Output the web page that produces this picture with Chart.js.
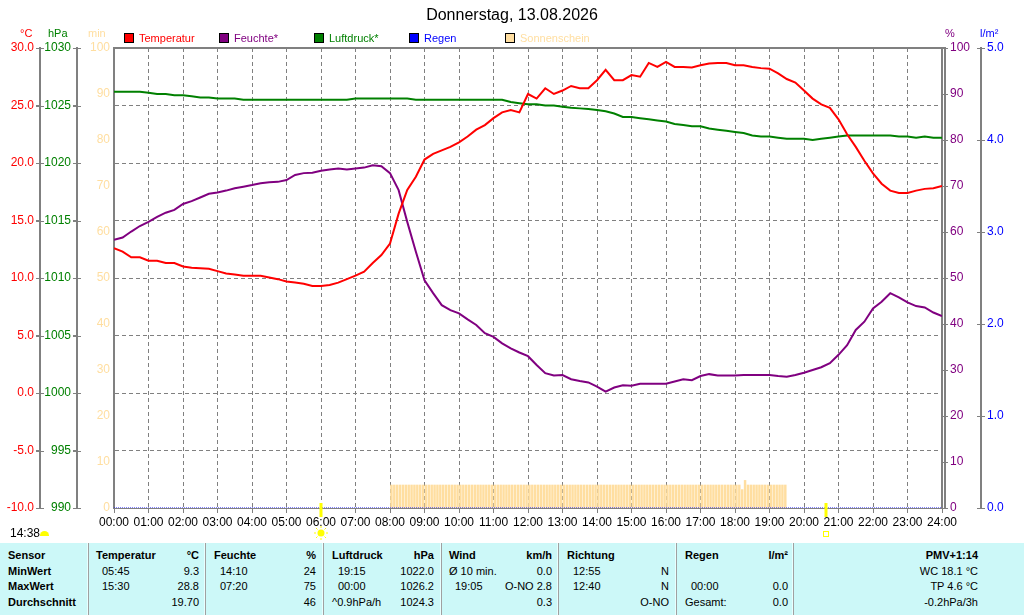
<!DOCTYPE html>
<html lang="de">
<head>
<meta charset="utf-8">
<title>Donnerstag, 13.08.2026</title>
<script src="https://cdn.jsdelivr.net/npm/chart.js@4.4.1/dist/chart.umd.min.js"></script>
<style>
  body { margin: 0; background: #fff; font-family: "Liberation Sans", Arial, sans-serif; }
  #wrap { position: relative; width: 1024px; height: 615px; overflow: hidden; }
  #chart { position: absolute; left: 0; top: 0; }
  .abs { position: absolute; white-space: nowrap; }
  #title { top: 5px; left: 0; width: 1024px; text-align: center; font-size: 16px; line-height: 20px; color: #000; }
  .unit { top: 27px; font-size: 11px; line-height: 12px; }
  .leg { top: 32px; height: 12px; font-size: 11px; line-height: 12px; }
  .leg b { position: absolute; left: 0; top: 1px; width: 8px; height: 8px; border: 1px solid #000; }
  .leg span { position: absolute; left: 15px; top: 0; }
  #now { left: 10px; top: 526px; font-size: 12px; line-height: 15px; }
  #nowIcon { left: 40px; top: 531px; width: 9px; height: 5px; background: #ffff00; border-radius: 5px 5px 0 0; }
  #table { position: absolute; left: 0; top: 543px; width: 1024px; height: 72px; background: #ccf8f8;
           display: flex; font-size: 11px; color: #000; }
  .col { box-sizing: border-box; padding-top: 5px; height: 72px; }
  .col + .col { border-left: 1px solid #a0a0a0; box-shadow: -1px 0 0 #e8ffff; }
  .r { display: flex; justify-content: space-between; height: 15.6px; line-height: 15.6px; white-space: nowrap; }
  .r.h, .col.first .r { font-weight: bold; }
  .t { padding-left: 6px; }
</style>
</head>
<body>
<div id="wrap">
  <canvas id="chart" width="1024" height="543"></canvas>

  <div id="title" class="abs">Donnerstag, 13.08.2026</div>

  <div class="abs unit" style="left:20px;color:#ff0000">°C</div>
  <div class="abs unit" style="left:48px;color:#008000">hPa</div>
  <div class="abs unit" style="left:88px;color:#ffdea0">min</div>
  <div class="abs unit" style="left:945px;color:#800080">%</div>
  <div class="abs unit" style="left:980px;color:#0000ff">l/m²</div>

  <div class="abs leg" style="left:124px"><b style="background:#ff0000"></b><span style="color:#ff0000">Temperatur</span></div>
  <div class="abs leg" style="left:219px"><b style="background:#800080"></b><span style="color:#800080">Feuchte*</span></div>
  <div class="abs leg" style="left:314px"><b style="background:#008000"></b><span style="color:#008000">Luftdruck*</span></div>
  <div class="abs leg" style="left:409px"><b style="background:#0000ff"></b><span style="color:#0000ff">Regen</span></div>
  <div class="abs leg" style="left:505px"><b style="background:#ffdea0"></b><span style="color:#ffdea0">Sonnenschein</span></div>

  <div id="now" class="abs">14:38</div>
  <div id="nowIcon" class="abs"></div>

  <div id="table">
    <div class="col first" style="width:88px;padding-left:8px">
      <div class="r"><span>Sensor</span></div>
      <div class="r"><span>MinWert</span></div>
      <div class="r"><span>MaxWert</span></div>
      <div class="r"><span>Durchschnitt</span></div>
    </div>
    <div class="col" style="width:117px;padding-left:7px;padding-right:6px">
      <div class="r h"><span>Temperatur</span><span>°C</span></div>
      <div class="r"><span class="t">05:45</span><span>9.3</span></div>
      <div class="r"><span class="t">15:30</span><span>28.8</span></div>
      <div class="r"><span></span><span>19.70</span></div>
    </div>
    <div class="col" style="width:118px;padding-left:8px;padding-right:7px">
      <div class="r h"><span>Feuchte</span><span>%</span></div>
      <div class="r"><span class="t">14:10</span><span>24</span></div>
      <div class="r"><span class="t">07:20</span><span>75</span></div>
      <div class="r"><span></span><span>46</span></div>
    </div>
    <div class="col" style="width:118px;padding-left:8px;padding-right:7px">
      <div class="r h"><span>Luftdruck</span><span>hPa</span></div>
      <div class="r"><span class="t">19:15</span><span>1022.0</span></div>
      <div class="r"><span class="t">00:00</span><span>1026.2</span></div>
      <div class="r"><span>^0.9hPa/h</span><span>1024.3</span></div>
    </div>
    <div class="col" style="width:117px;padding-left:7px;padding-right:6px">
      <div class="r h"><span>Wind</span><span>km/h</span></div>
      <div class="r"><span>Ø 10 min.</span><span>0.0</span></div>
      <div class="r"><span class="t">19:05</span><span>O-NO 2.8</span></div>
      <div class="r"><span></span><span>0.3</span></div>
    </div>
    <div class="col" style="width:118px;padding-left:8px;padding-right:7px">
      <div class="r h"><span>Richtung</span><span></span></div>
      <div class="r"><span class="t">12:55</span><span>N</span></div>
      <div class="r"><span class="t">12:40</span><span>N</span></div>
      <div class="r"><span></span><span>O-NO</span></div>
    </div>
    <div class="col" style="width:117px;padding-left:8px;padding-right:5px">
      <div class="r h"><span>Regen</span><span>l/m²</span></div>
      <div class="r"><span></span><span></span></div>
      <div class="r"><span class="t">00:00</span><span>0.0</span></div>
      <div class="r"><span>Gesamt:</span><span>0.0</span></div>
    </div>
    <div class="col" style="width:231px;padding-right:46px;text-align:right">
      <div class="r h" style="justify-content:flex-end"><span>PMV+1:14</span></div>
      <div class="r" style="justify-content:flex-end"><span>WC 18.1 °C</span></div>
      <div class="r" style="justify-content:flex-end"><span>TP 4.6 °C</span></div>
      <div class="r" style="justify-content:flex-end"><span>-0.2hPa/3h</span></div>
    </div>
  </div>
</div>

<script>
// x axis tick labels (hours)
const hourLabels = ['00:00', '01:00', '02:00', '03:00', '04:00', '05:00', '06:00', '07:00', '08:00',
    '09:00', '10:00', '11:00', '12:00', '13:00', '14:00', '15:00', '16:00', '17:00', '18:00',
    '19:00', '20:00', '21:00', '22:00', '23:00', '24:00'];

// readings every 15 minutes, 00:00 .. 24:00
const temperature = [
    12.6, 12.3, 11.8, 11.8, 11.5, 11.5, 11.3, 11.3, 11.0, 10.9, 10.85, 10.8,
    10.6, 10.4, 10.3, 10.2, 10.2, 10.2, 10.05, 9.9, 9.7, 9.6, 9.5, 9.3,
    9.3, 9.4, 9.6, 9.9, 10.2, 10.55, 11.3, 12.0, 13.0, 15.6, 17.65, 18.8,
    20.3, 20.8, 21.1, 21.4, 21.8, 22.3, 22.9, 23.3, 23.9, 24.4, 24.6, 24.4,
    26.0, 25.6, 26.5, 26.0, 26.3, 26.7, 26.5, 26.5, 27.2, 28.1, 27.2, 27.2,
    27.65, 27.5, 28.7, 28.35, 28.8, 28.35, 28.35, 28.3, 28.5, 28.65, 28.7, 28.7,
    28.5, 28.5, 28.35, 28.25, 28.2, 27.8, 27.3, 27.0, 26.3, 25.6, 25.1, 24.8,
    23.8, 22.5, 21.4, 20.2, 19.1, 18.2, 17.6, 17.4, 17.4, 17.6, 17.75, 17.8,
    18.0
];
const humidity = [
    58.3, 58.8, 60.1, 61.3, 62.2, 63.3, 64.2, 64.8, 66.1, 66.7, 67.5, 68.3,
    68.6, 69.0, 69.5, 69.85, 70.2, 70.6, 70.8, 70.9, 71.3, 72.4, 72.8, 72.9,
    73.3, 73.6, 73.8, 73.6, 73.8, 74.0, 74.5, 74.3, 72.8, 69.1, 62.2, 55.7,
    49.5, 46.7, 44.1, 43.0, 42.3, 41.0, 39.8, 38.0, 37.2, 35.8, 34.7, 33.8,
    33.0, 31.1, 29.3, 28.8, 28.9, 28.0, 27.6, 27.3, 26.4, 25.3, 26.2, 26.7,
    26.6, 27.0, 27.0, 27.0, 27.0, 27.5, 28.0, 27.8, 28.7, 29.1, 28.8, 28.8,
    28.8, 28.9, 28.9, 28.9, 28.9, 28.7, 28.55, 28.9, 29.4, 30.0, 30.6, 31.5,
    33.3, 35.4, 38.7, 40.5, 43.4, 44.85, 46.7, 45.8, 44.7, 43.9, 43.6, 42.5,
    41.7
];
const pressure = [
    1026.2, 1026.2, 1026.2, 1026.2, 1026.1, 1026.0, 1026.0, 1025.9, 1025.9, 1025.8, 1025.7, 1025.7,
    1025.6, 1025.6, 1025.6, 1025.5, 1025.5, 1025.5, 1025.5, 1025.5, 1025.5, 1025.5, 1025.5, 1025.5,
    1025.5, 1025.5, 1025.5, 1025.5, 1025.6, 1025.6, 1025.6, 1025.6, 1025.6, 1025.6, 1025.6, 1025.5,
    1025.5, 1025.5, 1025.5, 1025.5, 1025.5, 1025.5, 1025.5, 1025.5, 1025.5, 1025.5, 1025.3, 1025.2,
    1025.1, 1025.1, 1025.0, 1025.0, 1024.9, 1024.8, 1024.75, 1024.7, 1024.6, 1024.5, 1024.3, 1024.0,
    1024.0, 1023.9, 1023.8, 1023.7, 1023.6, 1023.4, 1023.3, 1023.2, 1023.2, 1023.0, 1022.9, 1022.8,
    1022.7, 1022.6, 1022.4, 1022.3, 1022.3, 1022.2, 1022.1, 1022.1, 1022.1, 1022.0, 1022.1, 1022.2,
    1022.3, 1022.4, 1022.4, 1022.4, 1022.4, 1022.4, 1022.4, 1022.3, 1022.3, 1022.2, 1022.3, 1022.2,
    1022.2
];
// rain per hour, 00:00 .. 24:00
const rain = [0, 0, 0, 0, 0, 0, 0, 0, 0, 0, 0, 0, 0, 0, 0, 0, 0, 0, 0, 0, 0, 0, 0, 0, 0];
// sunshine minutes per 5-minute slot, from 08:00 to 19:30
const sunStart = 8;
const sunshine = [
    5, 5, 5, 5, 5, 5, 5, 5, 5, 5, 5, 5,   // 08
    5, 5, 5, 5, 5, 5, 5, 5, 5, 5, 5, 5,   // 09
    5, 5, 5, 5, 5, 5, 5, 5, 5, 5, 5, 5,   // 10
    5, 5, 5, 5, 5, 5, 5, 5, 5, 5, 5, 5,   // 11
    5, 5, 5, 5, 5, 5, 5, 5, 5, 5, 5, 5,   // 12
    5, 5, 5, 5, 5, 5, 5, 5, 5, 5, 5, 5,   // 13
    5, 5, 5, 5, 5, 5, 5, 5, 5, 5, 5, 5,   // 14
    5, 5, 5, 5, 5, 5, 5, 5, 5, 5, 5, 5,   // 15
    5, 5, 5, 5, 5, 5, 5, 5, 5, 5, 5, 5,   // 16
    5, 5, 5, 5, 5, 5, 5, 5, 5, 5, 5, 5,   // 17
    5, 5, 4, 6, 5, 5, 5, 5, 5, 5, 5, 5,   // 18
    5, 5, 5, 5, 5, 5                      // 19
];
// sunrise / sunset in hours
const sunEvents = [6.0, 20.64];

const gray = '#808080';
const quarter = (vals) => vals.map((v, i) => ({ x: i / 4, y: v }));

Chart.defaults.font.family = '"Liberation Sans", Arial, sans-serif';
Chart.defaults.font.size = 12;
Chart.defaults.color = '#000';

function sideAxis(position, weight, width, min, max, step, color, digits, extra) {
    return Object.assign({
        type: 'linear',
        position: position,
        weight: weight,
        min: min,
        max: max,
        ticks: {
            stepSize: step,
            color: color,
            padding: 2,
            autoSkip: false,
            callback: v => v.toFixed(digits)
        },
        grid: { drawOnChartArea: false, color: gray, tickColor: gray, tickLength: 4, tickWidth: 1 },
        border: { display: true, color: gray, width: 2 },
        afterFit: s => { s.width = width; }
    }, extra || {});
}

// frame, outer axis lines and sun markers
const decor = {
    id: 'decor',
    afterDraw(chart) {
        const { ctx, chartArea: a } = chart;
        const x = chart.scales.x;
        ctx.save();
        ctx.strokeStyle = gray;
        ctx.lineWidth = 2;
        ctx.beginPath();
        ctx.moveTo(a.left - 1, a.top);
        ctx.lineTo(a.right + 4, a.top);
        ctx.moveTo(a.right + 3, a.top);
        ctx.lineTo(a.right + 3, a.bottom + 1);
        ctx.stroke();

        // free-standing axes: line plus ticks crossing it
        ['yT', 'yP', 'yR'].forEach(id => {
            const s = chart.scales[id];
            const lx = s.position === 'left' ? s.right : s.left;
            const dir = s.position === 'left' ? 1 : -1;
            ctx.lineWidth = 2;
            ctx.beginPath();
            ctx.moveTo(lx, s.top - 1);
            ctx.lineTo(lx, s.bottom + 1);
            ctx.stroke();
            ctx.lineWidth = 1;
            s.ticks.forEach(t => {
                const py = Math.round(s.getPixelForValue(t.value)) + 0.5;
                ctx.beginPath();
                ctx.moveTo(lx - 4 * dir, py);
                ctx.lineTo(lx + 4 * dir, py);
                ctx.stroke();
            });
        });

        ctx.strokeStyle = '#ffff00';
        ctx.fillStyle = '#ffff00';
        sunEvents.forEach((h, i) => {
            const px = Math.round(x.getPixelForValue(h));
            ctx.lineWidth = 3;
            ctx.beginPath();
            ctx.moveTo(px, a.bottom - 5);
            ctx.lineTo(px, a.bottom + 9);
            ctx.stroke();
            if (i === 0) {
                ctx.beginPath();
                ctx.arc(px, a.bottom + 25, 3.5, 0, Math.PI * 2);
                ctx.fill();
                ctx.lineWidth = 1;
                for (let k = 0; k < 8; k++) {
                    const ang = k * Math.PI / 4;
                    ctx.beginPath();
                    ctx.moveTo(px + Math.cos(ang) * 5, a.bottom + 25 + Math.sin(ang) * 5);
                    ctx.lineTo(px + Math.cos(ang) * 7, a.bottom + 25 + Math.sin(ang) * 7);
                    ctx.stroke();
                }
            } else {
                ctx.lineWidth = 1;
                ctx.strokeRect(px - 2.5, a.bottom + 23.5, 5, 5);
            }
        });
        ctx.restore();
    }
};

const ctx = document.getElementById('chart').getContext('2d');

new Chart(ctx, {
    type: 'line',
    data: {
        datasets: [
            {
                label: 'Temperatur',
                data: quarter(temperature),
                yAxisID: 'yT',
                borderColor: '#ff0000',
                borderWidth: 2,
                pointRadius: 0
            },
            {
                label: 'Feuchte*',
                data: quarter(humidity),
                yAxisID: 'yH',
                borderColor: '#800080',
                borderWidth: 2,
                pointRadius: 0
            },
            {
                label: 'Luftdruck*',
                data: quarter(pressure),
                yAxisID: 'yP',
                borderColor: '#008000',
                borderWidth: 2,
                pointRadius: 0
            },
            {
                label: 'Regen',
                data: rain.map((v, i) => ({ x: i, y: v })),
                yAxisID: 'yR',
                borderColor: '#0000ff',
                borderWidth: 1,
                borderDash: [1, 1],
                pointRadius: 0
            },
            {
                type: 'bar',
                label: 'Sonnenschein',
                data: sunshine.map((v, i) => ({ x: sunStart + (i + 0.5) / 12, y: v })),
                yAxisID: 'yS',
                backgroundColor: '#ffdea0',
                borderWidth: 0,
                barThickness: 1.8
            }
        ]
    },
    options: {
        responsive: false,
        animation: false,
        devicePixelRatio: 1,
        layout: { padding: { top: 48, left: 0, right: 0, bottom: 0 } },
        plugins: {
            legend: { display: false },
            title: { display: false },
            tooltip: { enabled: false }
        },
        scales: {
            x: {
                type: 'linear',
                min: 0,
                max: 24,
                offset: false,
                ticks: {
                    stepSize: 1,
                    autoSkip: false,
                    maxRotation: 0,
                    minRotation: 0,
                    padding: 2,
                    color: '#000',
                    callback: v => hourLabels[v]
                },
                grid: { color: gray, tickColor: gray, tickLength: 5, offset: false },
                border: { display: true, color: gray, width: 1, dash: [4, 3] },
                afterFit: s => { s.height = 35; }
            },
            yT: sideAxis('left', 3, 40, -10, 30, 5, '#ff0000', 1, {
                grid: { drawOnChartArea: true, color: gray, tickColor: gray, tickLength: 4, tickWidth: 1 },
                border: { display: true, color: gray, width: 2, dash: [4, 3] }
            }),
            yP: sideAxis('left', 2, 37, 990, 1030, 5, '#008000', 0),
            yS: sideAxis('left', 1, 37, 0, 100, 10, '#ffdea0', 0, {
                ticks: { stepSize: 10, color: '#ffdea0', padding: 4, autoSkip: false, callback: v => v.toFixed(0) },
                grid: { drawOnChartArea: false, drawTicks: false },
                border: { display: true, color: gray, width: 2 }
            }),
            yH: sideAxis('right', 1, 39, 0, 100, 10, '#800080', 0, {
                grid: { drawOnChartArea: false, color: gray, tickColor: gray, tickLength: 6, tickWidth: 1 },
                border: { display: true, color: gray, width: 2 }
            }),
            yR: sideAxis('right', 2, 43, 0, 5, 1, '#0000ff', 1)
        }
    },
    plugins: [decor]
});
</script>
</body>
</html>
